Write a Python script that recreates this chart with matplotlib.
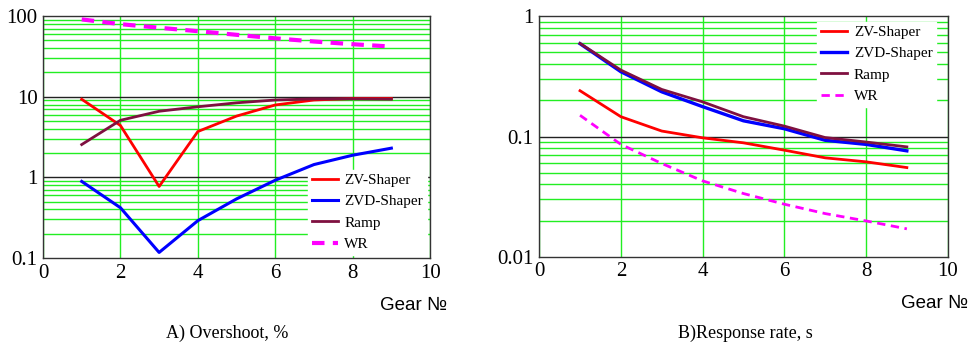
import numpy as np
import matplotlib
matplotlib.use("Agg")
import matplotlib.pyplot as plt
from matplotlib.font_manager import FontProperties
from matplotlib.ticker import LogLocator, NullFormatter, FixedLocator

GEARS = [1, 2, 3, 4, 5, 6, 7, 8, 9]

# A) Overshoot, %
OVR_ZV = [9.3, 4.4, 0.77, 3.7, 5.75, 7.9, 9.1, 9.5, 9.5]
OVR_ZVD = [0.89, 0.42, 0.117, 0.29, 0.54, 0.92, 1.44, 1.88, 2.3]
OVR_RAMP = [2.55, 5.1, 6.6, 7.5, 8.4, 9.1, 9.4, 9.4, 9.3]
OVR_WR = [91, 79.5, 71.7, 65, 58.6, 53, 48.4, 44.8, 41.9]

# B) Response rate, s
RSP_ZV = [0.24, 0.146, 0.111, 0.0975, 0.0886, 0.077, 0.0665, 0.0616, 0.0552]
RSP_ZVD = [0.59, 0.345, 0.235, 0.177, 0.135, 0.116, 0.093, 0.086, 0.076]
RSP_RAMP = [0.593, 0.356, 0.246, 0.194, 0.146, 0.122, 0.098, 0.090, 0.082]
RSP_WR = [0.15, 0.086, 0.0597, 0.0428, 0.0336, 0.0274, 0.0229, 0.0199, 0.0171]

LABELS = ["ZV-Shaper", "ZVD-Shaper", "Ramp", "WR"]
COLORS = ["#ff0000", "#0000ff", "#7f1040", "#ff00ff"]
SERIF = "Liberation Serif"
SANS = "Liberation Sans"


def style_axes(ax, ylo, yhi, yticks, yticklabels):
    ax.set_yscale("log")
    ax.set_xlim(0, 10)
    ax.set_ylim(ylo, yhi)
    ax.set_xticks([0, 2, 4, 6, 8, 10])
    ax.set_xticklabels(["0", "2", "4", "6", "8", "10"], family=SERIF, fontsize=15)
    ax.yaxis.set_major_locator(FixedLocator(yticks))
    ax.set_yticklabels(yticklabels, family=SERIF, fontsize=15)
    ax.yaxis.set_minor_locator(LogLocator(base=10, subs=np.arange(2, 10)))
    ax.yaxis.set_minor_formatter(NullFormatter())
    ax.tick_params(length=0, which="both", pad=4)
    # grid
    ax.grid(True, which="minor", axis="y", color="#22ee22", lw=1.0)
    ax.grid(True, which="major", axis="x", color="#22ee22", lw=1.0)
    for v in yticks[1:-1]:
        ax.axhline(v, color="#222222", lw=1.0, zorder=1.5)
    for sp in ax.spines.values():
        sp.set_color("#333333")
        sp.set_linewidth(1.0)
    ax.set_axisbelow(True)


def add_legend(ax, **kw):
    ax.legend(prop=FontProperties(family=SERIF, size=11), frameon=True, fancybox=False,
              edgecolor="white", framealpha=1.0, handlelength=1.7,
              handletextpad=0.45, labelspacing=0.5, borderpad=0.25, borderaxespad=0.2, **kw)


fig = plt.figure(figsize=(9.75, 3.5), dpi=100)
ax1 = fig.add_axes([0.0441, 0.263, 0.397, 0.691])
ax2 = fig.add_axes([0.553, 0.266, 0.419, 0.688])

# left panel
style_axes(ax1, 0.1, 100, [0.1, 1, 10, 100], ["0.1", "1", "10", "100"])
ax1.plot(GEARS, OVR_ZV, color=COLORS[0], lw=2.0, label=LABELS[0], zorder=3)
ax1.plot(GEARS, OVR_ZVD, color=COLORS[1], lw=2.2, label=LABELS[1], zorder=3)
ax1.plot(GEARS, OVR_RAMP, color=COLORS[2], lw=2.0, label=LABELS[2], zorder=3)
ax1.plot(GEARS, OVR_WR, color=COLORS[3], lw=3.0, ls=(0, (3, 2)), label=LABELS[3], zorder=3)
add_legend(ax1, loc="lower right", bbox_to_anchor=(1.0, 0.0))
ax1.text(1.045, -0.195, "Gear №", transform=ax1.transAxes, family=SANS, fontsize=13.5,
         ha="right", va="center")
fig.text(0.233, 0.049, "A) Overshoot, %", family=SERIF, fontsize=13, ha="center", va="center")

# right panel
style_axes(ax2, 0.01, 1, [0.01, 0.1, 1], ["0.01", "0.1", "1"])
ax2.plot(GEARS, RSP_ZV, color=COLORS[0], lw=2.0, label=LABELS[0], zorder=3)
ax2.plot(GEARS, RSP_ZVD, color=COLORS[1], lw=2.4, label=LABELS[1], zorder=3)
ax2.plot(GEARS, RSP_RAMP, color=COLORS[2], lw=2.0, label=LABELS[2], zorder=3)
ax2.plot(GEARS, RSP_WR, color=COLORS[3], lw=2.0, ls=(0, (3, 2)), label=LABELS[3], zorder=3)
add_legend(ax2, loc="upper right", bbox_to_anchor=(0.98, 0.99))
ax2.text(1.05, -0.195, "Gear №", transform=ax2.transAxes, family=SANS, fontsize=13.5,
         ha="right", va="center")
fig.text(0.765, 0.049, "B)Response rate, s", family=SERIF, fontsize=13, ha="center", va="center")

fig.savefig("out.png", dpi=100)
